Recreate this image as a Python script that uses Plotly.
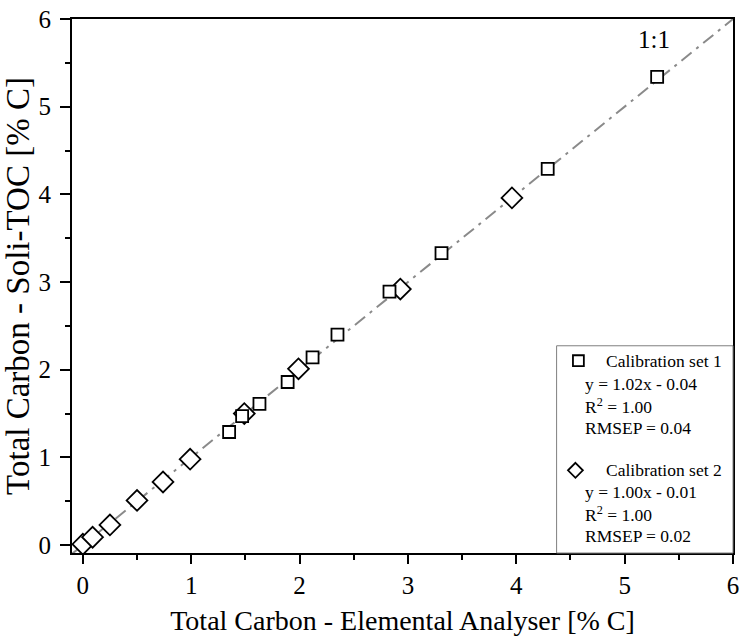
import plotly.graph_objects as go

# Calibration set 1 (squares)
set1_x = [1.35, 1.47, 1.63, 1.89, 2.12, 2.35, 2.83, 3.31, 4.29, 5.30]
set1_y = [1.29, 1.47, 1.61, 1.86, 2.14, 2.40, 2.89, 3.33, 4.29, 5.34]

# Calibration set 2 (diamonds)
set2_x = [0.00, 0.09, 0.25, 0.50, 0.74, 0.99, 1.49, 1.99, 2.93, 3.96]
set2_y = [0.01, 0.09, 0.23, 0.51, 0.72, 0.98, 1.50, 2.01, 2.92, 3.96]

# 1:1 reference line
line_x = [-0.1, 6.0]
line_y = [-0.1, 6.0]

x_ticks = [0, 1, 2, 3, 4, 5, 6]
y_ticks = [0, 1, 2, 3, 4, 5, 6]

legend_lines_1 = ["Calibration set 1", "y = 1.02x - 0.04", "R<sup>2</sup> = 1.00", "RMSEP = 0.04"]
legend_lines_2 = ["Calibration set 2", "y = 1.00x - 0.01", "R<sup>2</sup> = 1.00", "RMSEP = 0.02"]

FONT = "Liberation Serif"

fig = go.Figure()
fig.add_trace(go.Scatter(x=line_x, y=line_y, mode="lines",
                         line=dict(color="#8a8a8a", width=2, dash="13px,6px,3px,6px"),
                         showlegend=False, hoverinfo="skip"))
fig.add_trace(go.Scatter(x=set2_x, y=set2_y, mode="markers", name="Calibration set 2",
                         marker=dict(symbol="diamond", size=16, color="white",
                                     line=dict(color="black", width=1.8)),
                         showlegend=False))
fig.add_trace(go.Scatter(x=set1_x, y=set1_y, mode="markers", name="Calibration set 1",
                         marker=dict(symbol="square", size=12, color="white",
                                     line=dict(color="black", width=1.8)),
                         showlegend=False))

W, H = 745, 640
L, R, T, B = 72, 6, 17, 87
pw, ph = W - L - R, H - T - B

def px(xp):
    return (xp - L) / pw

def py(yp):
    return (H - B - yp) / ph

shapes = []
# legend box
shapes.append(dict(type="rect", xref="paper", yref="paper",
                   x0=px(561), x1=px(739), y0=py(553), y1=py(345),
                   line=dict(color="#7f7f7f", width=1), fillcolor="white", layer="above"))
# legend symbols
shapes.append(dict(type="rect", xref="paper", yref="paper",
                   x0=px(577.5), x1=px(588.5), y0=py(365.5), y1=py(354.5),
                   line=dict(color="black", width=1.8), fillcolor="white", layer="above"))
cx, cy, r = 580, 470, 7.5
shapes.append(dict(type="path", xref="paper", yref="paper",
                   path=f"M {px(cx)},{py(cy - r)} L {px(cx + r)},{py(cy)} L {px(cx)},{py(cy + r)} L {px(cx - r)},{py(cy)} Z",
                   line=dict(color="black", width=1.8), fillcolor="white", layer="above"))

annotations = []
def add_line(text, xp, yp):
    annotations.append(dict(text=text, xref="paper", yref="paper", x=px(xp), y=py(yp),
                            xanchor="left", yanchor="middle", showarrow=False,
                            font=dict(family=FONT, size=17.5, color="black")))

ys1 = [360, 383, 405, 428]
ys2 = [470, 492, 514, 536]
for i, t in enumerate(legend_lines_1):
    add_line(t, 609 if i == 0 else 588, ys1[i])
for i, t in enumerate(legend_lines_2):
    add_line(t, 609 if i == 0 else 588, ys2[i])

annotations.append(dict(text="1:1", x=5.27, y=5.77, xref="x", yref="y", showarrow=False,
                        font=dict(family=FONT, size=25, color="black")))

axis_common = dict(showline=True, linecolor="black", linewidth=2, mirror=True,
                   ticks="outside", tickwidth=2, tickcolor="black",
                   showgrid=False, zeroline=False,
                   tickfont=dict(family=FONT, size=25, color="black"),
                   minor=dict(dtick=0.5, ticks="outside", ticklen=5, tickwidth=2, tickcolor="black"))

fig.update_layout(
    width=W, height=H,
    margin=dict(l=L, r=R, t=T, b=B),
    paper_bgcolor="white", plot_bgcolor="white",
    shapes=shapes, annotations=annotations,
    xaxis=dict(range=[-0.1, 6], tickvals=x_ticks, ticklen=9, ticklabelstandoff=0,
               title=dict(text="Total Carbon - Elemental Analyser [% C]",
                          font=dict(family=FONT, size=28, color="black"), standoff=12),
               **axis_common),
    yaxis=dict(range=[-0.09, 6], tickvals=y_ticks, ticklen=10, ticklabelstandoff=4,
               title=dict(text="Total Carbon - Soli-TOC [% C]",
                          font=dict(family=FONT, size=33, color="black"), standoff=6),
               **axis_common),
)

fig.write_html("out.html")
